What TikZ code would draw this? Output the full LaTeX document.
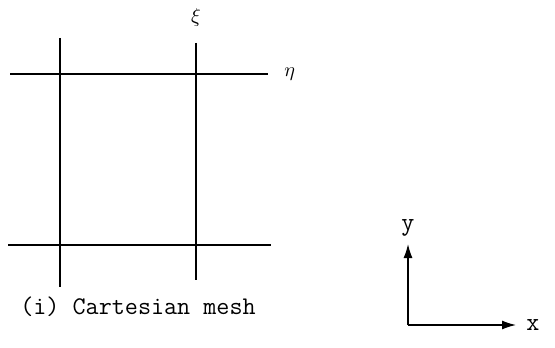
\documentclass[tikz,border=0pt]{standalone}
\usetikzlibrary{arrows.meta, positioning}

\begin{document}
\begin{tikzpicture}[
  x=0.5pt, y=-0.5pt,
  gridline/.style={line width=0.7pt},
  axis/.style={line width=0.7pt, -{Latex[length=7pt, width=4.5pt]}},
  lbl/.style={font=\fontsize{12.7}{15}\selectfont\ttfamily, inner sep=1pt}
]
\useasboundingbox (0,0) rectangle (555,347);

% Cartesian mesh
\coordinate (v1top) at (60,38);   \coordinate (v1bot) at (60,287);
\coordinate (v2top) at (196,43);  \coordinate (v2bot) at (196,280);
\coordinate (h1left) at (10,74);  \coordinate (h1right) at (268,74);
\coordinate (h2left) at (8,245);  \coordinate (h2right) at (271,245);

\draw[gridline] (v1top) -- (v1bot);
\draw[gridline] (v2top) -- (v2bot);
\draw[gridline] (h1left) -- (h1right);
\draw[gridline] (h2left) -- (h2right);

\node[inner sep=1pt] (xi) at (196,18) {$\xi$};
\node[inner sep=1pt, right=7pt of h1right] (eta) {$\eta$};

\node[lbl] (caption) at (138,307) {(i) Cartesian mesh};

% Axes
\coordinate (origin) at (408,325);
\coordinate (ytip) at (408,244);
\coordinate (xtip) at (516,325);
\draw[axis] (origin) -- (ytip);
\draw[axis] (origin) -- (xtip);
\node[lbl] (ylabel) at (408,228) {y};
\node[lbl, right=4pt of xtip] (xlabel) {x};
\end{tikzpicture}
\end{document}
